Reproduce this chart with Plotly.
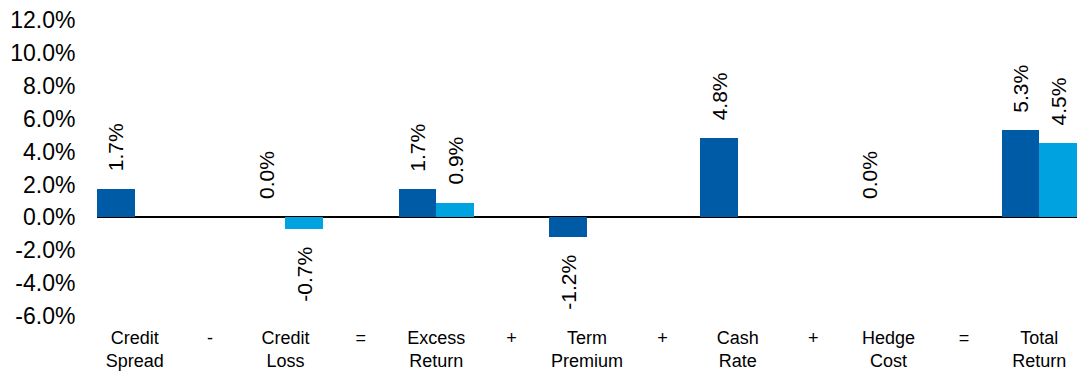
import plotly.graph_objects as go

categories = ["Credit<br>Spread", "-", "Credit<br>Loss", "=", "Excess<br>Return", "+",
              "Term<br>Premium", "+", "Cash<br>Rate", "+", "Hedge<br>Cost", "=", "Total<br>Return"]
series_dark = [1.7, None, 0.0, None, 1.7, None, -1.2, None, 4.8, None, 0.0, None, 5.3]
series_light = [None, None, -0.7, None, 0.9, None, None, None, None, None, None, None, 4.5]
y_ticks = [-6, -4, -2, 0, 2, 4, 6, 8, 10, 12]

DARK = "#005BA6"
LIGHT = "#00A3E0"
FONT = "Liberation Sans, Arial, sans-serif"

x = list(range(len(categories)))

fig = go.Figure()
fig.add_trace(go.Bar(x=x, y=series_dark, marker=dict(color=DARK, line=dict(width=0)),
                     name="dark", showlegend=False))
fig.add_trace(go.Bar(x=x, y=series_light, marker=dict(color=LIGHT, line=dict(width=0)),
                     name="light", showlegend=False))

annotations = []
half = 980 / len(categories) / 4
for vals, shift in ((series_dark, -half), (series_light, half)):
    for i, v in enumerate(vals):
        if v is None:
            continue
        neg = v < 0
        annotations.append(dict(
            x=i, y=v, xref="x", yref="y", text=f"{v:.1f}%", showarrow=False,
            textangle=-90, xshift=shift, yshift=-16 if neg else 16,
            yanchor="top" if neg else "bottom", xanchor="center",
            font=dict(family=FONT, size=21, color="#000000")))

fig.update_layout(
    width=1077, height=372,
    margin=dict(l=97, r=0, t=20, b=56, autoexpand=False),
    paper_bgcolor="white", plot_bgcolor="white",
    barmode="group", bargap=0, bargroupgap=0,
    annotations=annotations,
    font=dict(family=FONT, color="#000000"),
)
fig.update_xaxes(
    tickmode="array", tickvals=x, ticktext=categories,
    range=[-0.5, len(categories) - 0.5], automargin=False,
    showgrid=False, showline=False, zeroline=False,
    ticks="outside", ticklen=5, tickcolor="rgba(0,0,0,0)",
    tickfont=dict(family=FONT, size=18, color="#000000"),
)
fig.update_yaxes(
    range=[-6, 12], tickmode="array", tickvals=y_ticks, automargin=False,
    ticktext=[f"{t:.1f}%" for t in y_ticks],
    showgrid=False, showline=False,
    zeroline=True, zerolinecolor="#000000", zerolinewidth=1.5,
    ticks="outside", ticklen=16, tickcolor="rgba(0,0,0,0)",
    tickfont=dict(family=FONT, size=23, color="#000000"),
)

fig.write_html("out.html")
